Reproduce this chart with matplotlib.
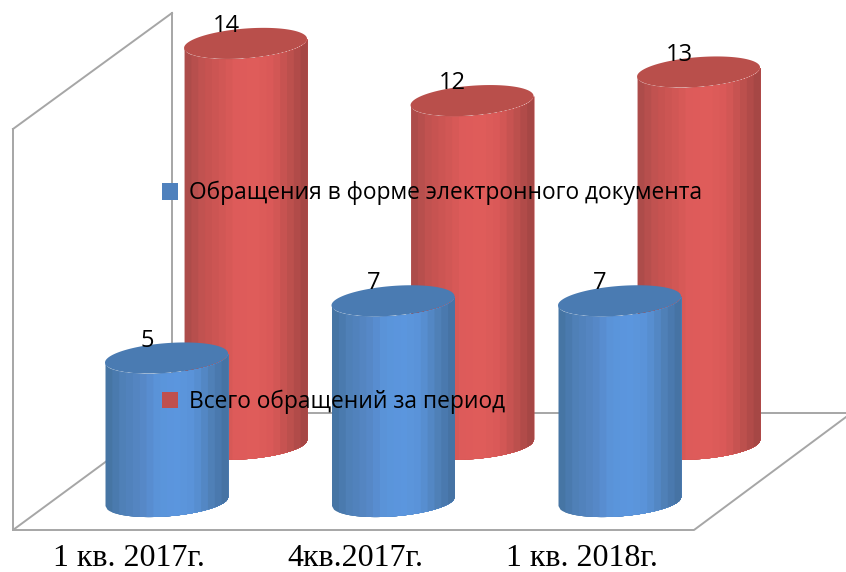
# Обращения граждан, cylinder chart redrawn with plain matplotlib

import numpy as np
import matplotlib
matplotlib.use("Agg")
import matplotlib.pyplot as plt
from matplotlib.colors import to_rgb
from matplotlib.lines import Line2D
from matplotlib.patches import Patch

# the data
categories = ["1 кв. 2017г.", "4кв.2017г.", "1 кв. 2018г."]
series_front = "Обращения в форме электронного документа"
series_back = "Всего обращений за период"
values_front = [5, 7, 7]
values_back = [14, 12, 13]

# colours from left to right over the round side
blue_stops = ["#44729f", "#4f80b8", "#5586c4", "#5a94da", "#5b96de", "#5a93d8", "#4f80b8", "#44709f"]
red_stops = ["#a84a48", "#c25250", "#cf5654", "#de5b5a", "#df5c5a", "#d95958", "#bd504d", "#a04543"]
blue_top = "#4a7bb2"
red_top = "#b94f4b"

WIDTH, HEIGHT, FLOOR = 846, 572, 530
PX_X = 226.5  # pixels for one category
PX_Y = 28.6  # pixels for one unit

fig = plt.figure(figsize=(WIDTH / 100, HEIGHT / 100), dpi=100)
ax = fig.add_axes([0, 1 - FLOOR / HEIGHT, 1, FLOOR / HEIGHT])
ax.set_xlim(-166.5 / PX_X, (WIDTH - 166.5) / PX_X)
ax.set_ylim(-(FLOOR - 501) / PX_Y, 501 / PX_Y)
for spine in ax.spines.values():
    spine.set_visible(False)
ax.patch.set_alpha(0)


def frame(xs, ys):
    # grey box lines, given in figure pixels
    fig.add_artist(Line2D(np.array(xs) / WIDTH, 1 - np.array(ys) / HEIGHT, color="#a6a6a6", lw=1.4, zorder=0))


frame([13, 13, 172, 172], [129, 530, 413, 13])
frame([13, 172], [129, 13])
frame([13, 694, 846], [530, 530, 417])
frame([172, 846], [413, 413])


def cylinder(cx, base, value, stops, top_colour, zorder):
    a, b, s = 0.2715, 0.52, 0.16
    t = np.linspace(np.pi, 0, 61)
    xs = cx + a * np.cos(t)
    arc = -b * np.sin(t) + s * np.cos(t)
    stops_rgb = np.array([to_rgb(c) for c in stops])
    pos = np.linspace(0, 1, len(stops))
    # round side as strips, each one runs under the next so no seams show
    edges = np.linspace(cx - a, cx + a, 19)
    for i in range(len(edges) - 1):
        xx = np.linspace(edges[i], cx + a, 61 - 3 * i)
        yy = np.interp(xx, xs, arc)
        f = (i + 0.5) / (len(edges) - 1)
        colour = [np.interp(f, pos, stops_rgb[:, k]) for k in range(3)]
        ax.fill_between(xx, base + yy, base + value + yy, color=colour, lw=0, zorder=zorder)
    # top
    t2 = np.linspace(0, 2 * np.pi, 120)
    ax.fill(cx + a * np.cos(t2), base + value + b * np.sin(t2) + s * np.cos(t2), color=top_colour, lw=0, zorder=zorder + 0.1)
    ax.annotate(str(value), (cx, base + value), xytext=(-14, 12.5), textcoords="offset points",
                ha="center", va="center", fontsize=17, family="Open Sans", color="black", zorder=5)


# back row first, shifted by the depth of the box
for i, v in enumerate(values_back):
    cylinder(i + 0.349, 2.0, v, red_stops, red_top, 2)
for i, v in enumerate(values_front):
    cylinder(i, 0, v, blue_stops, blue_top, 3)

ax.set_xticks(np.arange(len(categories)) - 0.168)
ax.set_xticklabels(categories, family="Liberation Serif", fontsize=23)
ax.tick_params(axis="x", length=0, pad=10)
ax.set_yticks([])

handles = [Patch(facecolor="#4f81bd", edgecolor="none"), Patch(facecolor="#c0504d", edgecolor="none")]
leg = ax.legend(handles, [series_front, series_back], loc="upper left", bbox_to_anchor=(162 / WIDTH, 1 - 181 / FLOOR),
                frameon=False, prop={"family": "Open Sans", "size": 16.4}, handlelength=0.72, handleheight=0.72,
                handletextpad=0.45, labelspacing=8.08, borderpad=0, borderaxespad=0)
leg.set_zorder(6)

plt.savefig("out.png", dpi=100)
